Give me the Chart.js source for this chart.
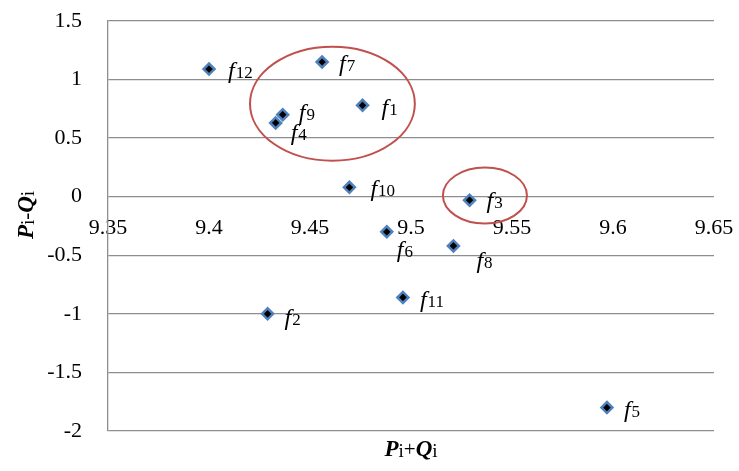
<!DOCTYPE html>
<html>
<head>
<meta charset="utf-8">
<script src="https://cdn.jsdelivr.net/npm/chart.js@4/dist/chart.umd.min.js"></script>
<style>
  html, body { margin: 0; padding: 0; background: #fff; }
  #wrap { width: 739px; height: 471px; }
</style>
</head>
<body>
<div id="wrap"><canvas id="c"></canvas></div>
<script>
// point names and values (Pi+Qi, Pi-Qi)
const names = ['1', '2', '3', '4', '5', '6', '7', '8', '9', '10', '11', '12'];
const sumPQ = [9.476, 9.429, 9.529, 9.433, 9.597, 9.488, 9.456, 9.521, 9.4365, 9.4695, 9.496, 9.400];
const diffPQ = [0.78, -1.0, -0.03, 0.63, -1.80, -0.30, 1.15, -0.42, 0.70, 0.08, -0.86, 1.09];

const xTicks = [9.35, 9.4, 9.45, 9.5, 9.55, 9.6, 9.65];
const xTickLabels = ['9.35', '9.4', '9.45', '9.5', '9.55', '9.6', '9.65'];
const yTicks = [1.5, 1, 0.5, 0, -0.5, -1, -1.5, -2];
const yTickLabels = ['1.5', '1', '0.5', '0', '-0.5', '-1', '-1.5', '-2'];

// highlighted groups: centre x, centre y, half width, half height (data units)
const groupX = [9.4611, 9.5366];
const groupY = [0.794, 0.01];
const groupRx = [0.0408, 0.0208];
const groupRy = [0.487, 0.239];

// label placement in px relative to the marker (style only)
const labelOffset = {
  '1': [19, 10], '2': [17, 11], '3': [17, 8], '4': [15, 17], '5': [17, 9], '6': [10, 25],
  '7': [17, 9], '8': [23, 22], '9': [16, 5], '10': [21, 9], '11': [17, 10], '12': [19, 9]
};

const serif = '"Liberation Serif", "Times New Roman", serif';
const gridColor = '#8e8e8e';

const pointData = sumPQ.map((x, i) => ({x: x, y: diffPQ[i]}));

const extras = {
  id: 'extras',
  afterDatasetsDraw(chart) {
    const ctx = chart.ctx;
    const xs = chart.scales.x, ys = chart.scales.y;
    ctx.save();
    // ellipses
    ctx.strokeStyle = '#C0504D';
    ctx.lineWidth = 2;
    for (let i = 0; i < groupX.length; i++) {
      const cx = xs.getPixelForValue(groupX[i]);
      const cy = ys.getPixelForValue(groupY[i]);
      const rx = Math.abs(xs.getPixelForValue(groupX[i] + groupRx[i]) - cx);
      const ry = Math.abs(ys.getPixelForValue(groupY[i] + groupRy[i]) - cy);
      ctx.beginPath();
      ctx.ellipse(cx, cy, rx, ry, 0, 0, Math.PI * 2);
      ctx.stroke();
    }
    // point labels
    ctx.fillStyle = '#000';
    ctx.textBaseline = 'alphabetic';
    ctx.textAlign = 'left';
    pointData.forEach((p, i) => {
      const px = xs.getPixelForValue(p.x);
      const py = ys.getPixelForValue(p.y);
      const off = labelOffset[names[i]];
      const lx = px + off[0], ly = py + off[1];
      ctx.font = 'italic 24px ' + serif;
      ctx.fillText('f', lx, ly);
      const w = ctx.measureText('f').width;
      ctx.font = '17px ' + serif;
      ctx.fillText(names[i], lx + w + 1, ly);
    });
    // axis titles
    function title(sep) {
      const parts = [['bold italic 23px ', 'P', 0], ['19px ', 'i', 1], ['21px ', sep, 0], ['bold italic 23px ', 'Q', 0], ['19px ', 'i', 1]];
      let total = 0;
      parts.forEach(pt => { ctx.font = pt[0] + serif; total += ctx.measureText(pt[1]).width; });
      let cur = -total / 2;
      parts.forEach(pt => {
        ctx.font = pt[0] + serif;
        ctx.fillText(pt[1], cur, pt[2]);
        cur += ctx.measureText(pt[1]).width;
      });
    }
    const area = chart.chartArea;
    ctx.save();
    ctx.translate((area.left + area.right) / 2, 456);
    title('+');
    ctx.restore();
    ctx.save();
    ctx.translate(33, 215);
    ctx.rotate(-Math.PI / 2);
    title('-');
    ctx.restore();
    ctx.restore();
  }
};

new Chart(document.getElementById('c'), {
  type: 'scatter',
  data: {
    datasets: [{
      data: pointData,
      pointStyle: 'rectRot',
      pointRadius: 5.5,
      pointHoverRadius: 5.5,
      backgroundColor: '#000',
      borderColor: '#4F81BD',
      borderWidth: 2.5
    }]
  },
  options: {
    responsive: true,
    maintainAspectRatio: false,
    animation: false,
    layout: { padding: { left: 0, top: 21, right: 25, bottom: 40 } },
    plugins: { legend: { display: false }, tooltip: { enabled: false } },
    scales: {
      x: {
        type: 'linear',
        min: 9.35,
        max: 9.65,
        position: { y: 0 },
        afterBuildTicks: s => { s.ticks = xTicks.map(v => ({value: v})); },
        afterFit: s => {
          s.height = 0;
          s.paddingLeft = 0; s.paddingRight = 0; s.paddingTop = 0; s.paddingBottom = 0;
        },
        ticks: {
          callback: (v, i) => xTickLabels[i],
          color: '#000',
          font: { family: serif, size: 22 },
          padding: 18,
          maxRotation: 0,
          autoSkip: false
        },
        grid: { display: false, drawTicks: false },
        border: { display: false }
      },
      y: {
        type: 'linear',
        min: -2,
        max: 1.5,
        afterBuildTicks: s => { s.ticks = yTicks.map(v => ({value: v})); },
        afterFit: s => {
          s.width = 108;
          s.paddingTop = 0; s.paddingBottom = 0;
        },
        ticks: {
          callback: (v, i) => yTickLabels[i],
          color: '#000',
          font: { family: serif, size: 22 },
          padding: 26,
          autoSkip: false
        },
        grid: { color: gridColor, lineWidth: 1.3, drawTicks: false },
        border: { color: gridColor, width: 1.3 }
      }
    }
  },
  plugins: [extras]
});
</script>
</body>
</html>
